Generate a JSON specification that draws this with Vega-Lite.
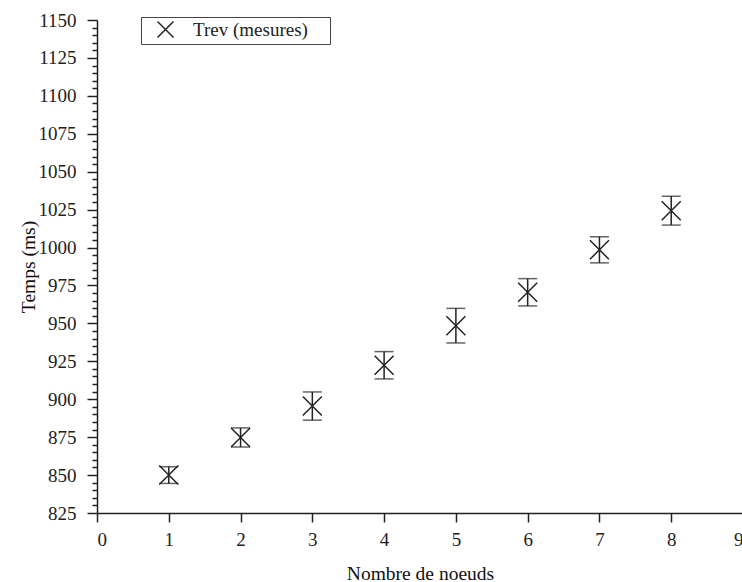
{
  "$schema": "https://vega.github.io/schema/vega-lite/v6.json",
  "width": 646,
  "height": 493,
  "autosize": {"type": "none"},
  "padding": {"left": 97, "top": 20, "right": 0, "bottom": 69},
  "background": "white",
  "config": {
    "view": {"stroke": null},
    "font": "Liberation Serif",
    "axis": {
      "grid": false,
      "domainColor": "#222",
      "domainWidth": 1.5,
      "tickColor": "#222",
      "tickWidth": 1.5,
      "labelFont": "Liberation Serif",
      "labelFontSize": 19,
      "labelColor": "#222",
      "labelOverlap": false,
      "titleFont": "Liberation Serif",
      "titleFontSize": 19.5,
      "titleFontWeight": "normal",
      "titleColor": "#111"
    }
  },
  "data": {
    "values": [
      {"n": 1, "t": 850.0, "lo": 844.5, "hi": 855.5, "serie": "Trev (mesures)"},
      {"n": 2, "t": 874.8, "lo": 868.5, "hi": 881.1, "serie": "Trev (mesures)"},
      {"n": 3, "t": 895.5, "lo": 886.2, "hi": 904.8, "serie": "Trev (mesures)"},
      {"n": 4, "t": 922.4, "lo": 913.4, "hi": 931.4, "serie": "Trev (mesures)"},
      {"n": 5, "t": 948.5, "lo": 937.1, "hi": 959.9, "serie": "Trev (mesures)"},
      {"n": 6, "t": 970.5, "lo": 961.5, "hi": 979.5, "serie": "Trev (mesures)"},
      {"n": 7, "t": 998.5, "lo": 989.9, "hi": 1007.1, "serie": "Trev (mesures)"},
      {"n": 8, "t": 1024.3, "lo": 1014.8, "hi": 1033.8, "serie": "Trev (mesures)"}
    ]
  },
  "layer": [
    {
      "mark": {"type": "rule", "color": "#222", "strokeWidth": 1.5},
      "encoding": {
        "x": {
          "field": "n", "type": "quantitative",
          "scale": {"domain": [0, 9], "nice": false, "zero": false},
          "axis": {
            "values": [0, 1, 2, 3, 4, 5, 6, 7, 8, 9],
            "tickCount": 20,
            "format": "d",
            "tickSize": 9,
            "labelPadding": 8,
            "title": "Nombre de noeuds",
            "titlePadding": 15
          }
        },
        "y": {
          "field": "lo", "type": "quantitative",
          "scale": {"domain": [825, 1150], "nice": false, "zero": false},
          "axis": {
            "values": [825, 830, 835, 840, 845, 850, 855, 860, 865, 870, 875, 880, 885, 890, 895, 900, 905, 910, 915, 920, 925, 930, 935, 940, 945, 950, 955, 960, 965, 970, 975, 980, 985, 990, 995, 1000, 1005, 1010, 1015, 1020, 1025, 1030, 1035, 1040, 1045, 1050, 1055, 1060, 1065, 1070, 1075, 1080, 1085, 1090, 1095, 1100, 1105, 1110, 1115, 1120, 1125, 1130, 1135, 1140, 1145, 1150],
            "tickCount": 200,
            "format": "d",
            "labelExpr": "datum.value % 25 === 0 ? datum.label : ''",
            "tickSize": {"condition": {"test": "datum.value % 25 === 0", "value": 10}, "value": 5},
            "labelPadding": 11,
            "title": "Temps (ms)",
            "titlePadding": 0
          }
        },
        "y2": {"field": "hi"}
      }
    },
    {
      "mark": {"type": "tick", "orient": "horizontal", "color": "#222", "thickness": 1.5, "size": 19},
      "encoding": {
        "x": {"field": "n", "type": "quantitative"},
        "y": {"field": "lo", "type": "quantitative"}
      }
    },
    {
      "mark": {"type": "tick", "orient": "horizontal", "color": "#222", "thickness": 1.5, "size": 19},
      "encoding": {
        "x": {"field": "n", "type": "quantitative"},
        "y": {"field": "hi", "type": "quantitative"}
      }
    },
    {
      "mark": {"type": "point", "filled": false, "stroke": "#222", "strokeWidth": 1.5, "size": 361, "opacity": 1},
      "encoding": {
        "x": {"field": "n", "type": "quantitative"},
        "y": {"field": "t", "type": "quantitative"},
        "shape": {
          "field": "serie", "type": "nominal",
          "scale": {"range": ["M-1,-1L1,1M1,-1L-1,1"]},
          "legend": {
            "title": "\u00a0",
            "titleOrient": "right",
            "titlePadding": 19,
            "orient": "none",
            "legendX": 44,
            "legendY": -3,
            "padding": 3,
            "strokeColor": "#444",
            "symbolSize": 256,
            "symbolStrokeColor": "#222",
            "symbolStrokeWidth": 1.5,
            "symbolOffset": 12,
            "labelOffset": 18,
            "labelFont": "Liberation Serif",
            "labelFontSize": 19,
            "labelColor": "#222"
          }
        }
      }
    }
  ]
}
